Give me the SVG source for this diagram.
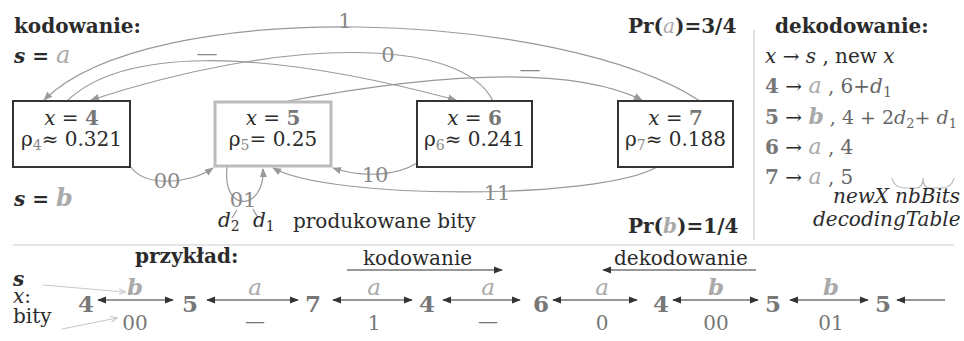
<svg xmlns="http://www.w3.org/2000/svg" width="964" height="341" viewBox="0 0 964 341">
<style>
text{font-family:"DejaVu Serif","Liberation Serif",serif;fill:#2b2b2b;font-size:20px}
.b{font-weight:bold}
.i{font-style:italic}
.g{fill:#777}
.lg{fill:#aaa}
.h{font-size:20px;font-weight:bold}
.lbl{font-size:21px;fill:#888}
.box{fill:#fff;stroke:#333;stroke-width:2}
.box5{fill:#fff;stroke:#bbb;stroke-width:3}
.conn path{fill:none;stroke:#999;stroke-width:1.2}
.dl{stroke:#333;stroke-width:1.2;fill:none}
.sep{stroke:#ccc;stroke-width:1.2}
.ptr{stroke:#c8c8c8;stroke-width:1.2;fill:none}
.num{font-size:23px;font-weight:bold;fill:#777;text-anchor:middle}
.sym{font-size:23px;font-style:italic;fill:#aaa;text-anchor:middle}
.bits{font-size:20px;fill:#777;text-anchor:middle}
.m{text-anchor:middle}
</style>
<defs>
<marker id="ah" viewBox="0 0 10 10" refX="9" refY="5" markerWidth="9" markerHeight="9" markerUnits="userSpaceOnUse" orient="auto"><path d="M0,1 L10,5 L0,9 z" fill="#999"/></marker>
<marker id="ad" viewBox="0 0 10 10" refX="9" refY="5" markerWidth="9" markerHeight="9" markerUnits="userSpaceOnUse" orient="auto-start-reverse"><path d="M0,1 L10,5 L0,9 z" fill="#333"/></marker>
<marker id="ap" viewBox="0 0 10 10" refX="9" refY="5" markerWidth="7" markerHeight="7" markerUnits="userSpaceOnUse" orient="auto"><path d="M0,1 L10,5 L0,9" fill="none" stroke="#c8c8c8" stroke-width="1.5"/></marker>
</defs>

<!-- headers -->
<text x="14" y="33" class="h">kodowanie:</text>
<text x="14" y="63" font-size="22"><tspan class="b i">s</tspan><tspan class="b"> = </tspan><tspan class="i lg" font-size="24">a</tspan></text>
<text x="14" y="206" font-size="22"><tspan class="b i">s</tspan><tspan class="b"> = </tspan><tspan class="b i lg" font-size="24">b</tspan></text>
<text x="628" y="33" class="h" font-size="21">Pr(<tspan class="i lg" font-weight="normal">a</tspan>)=3/4</text>
<text x="628" y="233" class="h" font-size="21">Pr(<tspan class="i lg">b</tspan>)=1/4</text>
<text x="775" y="33" class="h">dekodowanie:</text>

<line class="sep" x1="754" y1="30" x2="754" y2="240"/>
<line class="sep" x1="13" y1="245" x2="954" y2="245"/>

<!-- decoding table -->
<text x="765" y="63"><tspan class="i">x</tspan> → <tspan class="i">s</tspan> , new <tspan class="i">x</tspan></text>
<text x="765" y="93"><tspan class="b g">4</tspan> → <tspan class="i lg" font-size="22">a</tspan><tspan fill="#666"> , 6+<tspan class="i">d</tspan><tspan font-size="14" dy="4">1</tspan></tspan></text>
<text x="765" y="124"><tspan class="b g">5</tspan> → <tspan class="b i lg" font-size="22">b</tspan><tspan fill="#666" font-size="19"> , 4 + 2<tspan class="i">d</tspan><tspan font-size="13" dy="4">2</tspan><tspan dy="-4">+ </tspan><tspan class="i">d</tspan><tspan font-size="13" dy="4">1</tspan></tspan></text>
<text x="765" y="154"><tspan class="b g">6</tspan> → <tspan class="i lg" font-size="22">a</tspan><tspan fill="#666"> , 4</tspan></text>
<text x="765" y="184"><tspan class="b g">7</tspan> → <tspan class="i lg" font-size="22">a</tspan><tspan fill="#666"> , 5</tspan></text>
<path d="M892,178 Q894,188 905,188 L916,188 Q923,188 923,178 Q923,188 930,188 L941,188 Q952,188 954,178" fill="none" stroke="#bbb" stroke-width="1.2"/>
<text x="833" y="203" class="i" font-size="17">newX</text>
<text x="895" y="203" class="i" font-size="17">nbBits</text>
<text x="813" y="226" class="i" font-size="18">decodingTable</text>

<!-- connectors -->
<g id="connectors" class="conn">
<path d="M700,101 C560,10 150,-5 44,100" marker-end="url(#ah)"/>
<path d="M493,101 C460,35 280,38 91,100" marker-end="url(#ah)"/>
<path d="M67,101 C120,50 250,45 456,100" marker-end="url(#ah)"/>
<path d="M283,102 C400,80 560,60 642,100" marker-end="url(#ah)"/>
<path d="M130,166 C145,188 190,184 213,168" marker-end="url(#ah)"/>
<path d="M227,167 C222,215 265,210 263,169" marker-end="url(#ah)"/>
<path d="M417,163 C395,177 360,177 333,168" marker-end="url(#ah)"/>
<path d="M657,167 C600,200 330,200 273,168" marker-end="url(#ah)"/>
<path d="M237,210 L232,218 M253,209 L258,218" stroke="#aaa"/>
</g>
<text x="345" y="28" class="lbl m">1</text>
<text x="388" y="62" class="lbl m">0</text>
<text x="207" y="60" class="lbl m" font-size="17">—</text>
<text x="530" y="76" class="lbl m" font-size="17">—</text>
<text x="167" y="188" class="lbl m">00</text>
<text x="243" y="207" class="lbl m">01</text>
<text x="375" y="182" class="lbl m">10</text>
<text x="497" y="200" class="lbl m">11</text>

<!-- nodes -->
<g id="node-x4">
<rect class="box" x="13" y="101" width="117" height="66"/>
<text x="71.5" y="125" class="m"><tspan class="i">x</tspan> = <tspan class="b g">4</tspan></text>
<text x="71.5" y="146" class="m">ρ<tspan font-size="14" dy="4" fill="#888">4</tspan><tspan dy="-4">≈ 0.321</tspan></text>
</g>
<g id="node-x5">
<rect class="box5" x="215" y="102" width="116" height="64"/>
<text x="273" y="125" class="m"><tspan class="i">x</tspan> = <tspan class="b g">5</tspan></text>
<text x="273" y="146" class="m">ρ<tspan font-size="14" dy="4" fill="#888">5</tspan><tspan dy="-4">= 0.25</tspan></text>
</g>
<g id="node-x6">
<rect class="box" x="417" y="101" width="115" height="66"/>
<text x="474.5" y="125" class="m"><tspan class="i">x</tspan> = <tspan class="b g">6</tspan></text>
<text x="474.5" y="146" class="m">ρ<tspan font-size="14" dy="4" fill="#888">6</tspan><tspan dy="-4">≈ 0.241</tspan></text>
</g>
<g id="node-x7">
<rect class="box" x="618" y="101" width="115" height="66"/>
<text x="675.5" y="125" class="m"><tspan class="i">x</tspan> = <tspan class="b g">7</tspan></text>
<text x="675.5" y="146" class="m">ρ<tspan font-size="14" dy="4" fill="#888">7</tspan><tspan dy="-4">≈ 0.188</tspan></text>
</g>

<!-- d2 d1 and produced bits -->
<text x="218" y="227" class="i">d<tspan font-size="14" dy="4" font-style="normal">2</tspan></text>
<text x="253" y="227" class="i">d<tspan font-size="14" dy="4" font-style="normal">1</tspan></text>
<text x="293" y="228" font-size="21">produkowane bity</text>

<!-- example -->
<text x="135" y="263" class="h" font-size="21">przykład:</text>
<text x="363" y="265" font-size="21">kodowanie</text>
<line class="dl" x1="347" y1="270" x2="502" y2="270" marker-end="url(#ad)"/>
<text x="614" y="265" font-size="21">dekodowanie</text>
<line class="dl" x1="756" y1="270" x2="603" y2="270" marker-end="url(#ad)"/>

<text x="13" y="286" class="b i" font-size="20">s</text>
<text x="13" y="303" font-size="20"><tspan class="i">x</tspan>:</text>
<text x="13" y="323" font-size="20">bity</text>
<line class="ptr" x1="43" y1="285" x2="125" y2="292" marker-end="url(#ap)"/>
<line class="ptr" x1="62" y1="329" x2="117" y2="318" marker-end="url(#ap)"/>

<text x="86" y="312" class="num">4</text>
<line class="dl" x1="98" y1="300" x2="173" y2="300" marker-start="url(#ad)" marker-end="url(#ad)"/>
<text x="135" y="295" class="sym" font-weight="bold">b</text>
<text x="135" y="330" class="bits">00</text>
<text x="190" y="312" class="num">5</text>
<line class="dl" x1="207" y1="300" x2="298" y2="300" marker-start="url(#ad)" marker-end="url(#ad)"/>
<text x="255" y="295" class="sym">a</text>
<text x="255" y="328" class="bits" font-size="17">—</text>
<text x="313" y="312" class="num">7</text>
<line class="dl" x1="333" y1="300" x2="412" y2="300" marker-start="url(#ad)" marker-end="url(#ad)"/>
<text x="374" y="295" class="sym">a</text>
<text x="374" y="330" class="bits">1</text>
<text x="427" y="312" class="num">4</text>
<line class="dl" x1="443" y1="300" x2="520" y2="300" marker-start="url(#ad)" marker-end="url(#ad)"/>
<text x="488" y="295" class="sym">a</text>
<text x="488" y="328" class="bits" font-size="17">—</text>
<text x="541" y="312" class="num">6</text>
<line class="dl" x1="553" y1="300" x2="637" y2="300" marker-start="url(#ad)" marker-end="url(#ad)"/>
<text x="602" y="295" class="sym">a</text>
<text x="602" y="330" class="bits">0</text>
<text x="661" y="312" class="num">4</text>
<line class="dl" x1="673" y1="300" x2="758" y2="300" marker-start="url(#ad)" marker-end="url(#ad)"/>
<text x="716" y="295" class="sym" font-weight="bold">b</text>
<text x="716" y="330" class="bits">00</text>
<text x="773" y="312" class="num">5</text>
<line class="dl" x1="790" y1="300" x2="868" y2="300" marker-start="url(#ad)" marker-end="url(#ad)"/>
<text x="831" y="295" class="sym" font-weight="bold">b</text>
<text x="831" y="330" class="bits">01</text>
<text x="883" y="312" class="num">5</text>
<line class="dl" x1="945" y1="300" x2="897" y2="300" marker-end="url(#ad)"/>
</svg>
